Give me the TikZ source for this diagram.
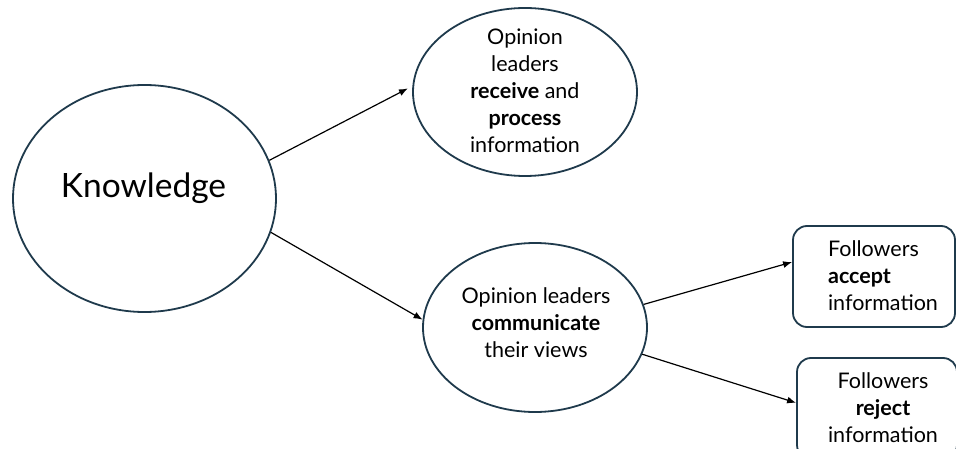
\documentclass[tikz,border=0pt]{standalone}
\usepackage{fontspec}
\setmainfont{Lato}
\usetikzlibrary{arrows.meta,shapes.geometric}
\definecolor{rim}{HTML}{1F3A4C}
\begin{document}
\begin{tikzpicture}[x=1pt,y=-1pt,
  bubble/.style={ellipse,draw=rim,line width=1.8pt,inner sep=0pt},
  card/.style={rectangle,rounded corners=14pt,draw=rim,line width=1.8pt,inner sep=0pt},
  words/.style={font=\fontsize{21.5}{27}\selectfont,align=center,inner sep=0pt},
  link/.style={line width=1.2pt,-{Latex[length=9pt,width=7pt]}}]
\useasboundingbox (0,0) rectangle (956,449);
% main idea
\node[bubble,minimum width=263pt,minimum height=227pt] (know) at (144.5,198.5) {};
\node[font=\fontsize{33.5}{40}\selectfont,inner sep=0pt] (knowtext) at (143.5,188) {Knowledge};
% opinion leaders
\node[bubble,minimum width=224pt,minimum height=168pt] (recv) at (525,92) {};
\node[words] (recvtext) at (525,91) {Opinion\\leaders\\\textbf{receive} and\\\textbf{process}\\information};
\node[bubble,minimum width=224pt,minimum height=169pt] (comm) at (535,327.5) {};
\node[words] (commtext) at (536,323) {Opinion leaders\\\textbf{communicate}\\their views};
% followers
\node[card,minimum width=162pt,minimum height=101pt] (acc) at (874,276.5) {};
\node[words,align=left] (acctext) at (883,276) {Followers\\\textbf{accept}\\information};
\node[card,minimum width=160pt,minimum height=101pt] (rej) at (877,408.5) {};
\node[words] (rejtext) at (883,408) {Followers\\\textbf{reject}\\information};
% connectors
\draw[link,shorten >=5pt] (know.17) -- (recv.177);
\draw[link] (know.-15) -- (comm.176);
\draw[link] (comm.12) -- (acc.170.5);
\draw[link] (comm.-14) -- (rej.176);
\end{tikzpicture}
\end{document}
